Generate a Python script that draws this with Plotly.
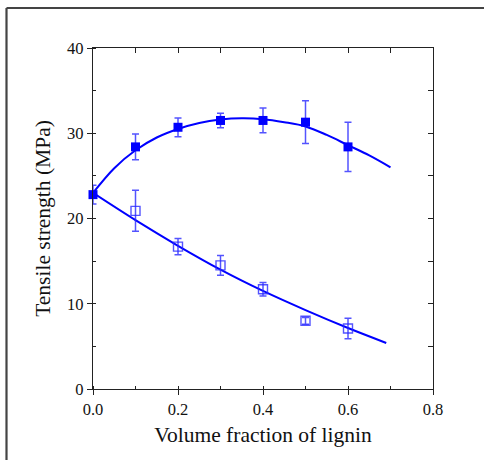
import plotly.graph_objects as go

filled_x = [0.0, 0.1, 0.2, 0.3, 0.4, 0.5, 0.6]
filled_y = [22.8, 28.4, 30.7, 31.5, 31.5, 31.3, 28.4]
filled_err = [1.1, 1.5, 1.1, 0.85, 1.45, 2.5, 2.9]

open_x = [0.1, 0.2, 0.3, 0.4, 0.5, 0.6]
open_y = [20.9, 16.7, 14.5, 11.7, 8.0, 7.1]
open_err = [2.4, 0.95, 1.15, 0.8, 0.4, 1.2]

# Fitted curves
fit_up_x = [0.0, 0.05, 0.1, 0.15, 0.2, 0.25, 0.3, 0.35, 0.4, 0.45, 0.5, 0.55, 0.6, 0.65, 0.7]
fit_up_y = [23.0, 25.9, 28.0, 29.5, 30.5, 31.2, 31.6, 31.75, 31.65, 31.3, 30.8, 29.8, 28.6, 27.4, 26.0]

fit_lo_x = [0.0, 0.1, 0.2, 0.3, 0.4, 0.5, 0.6, 0.69]
fit_lo_y = [23.0, 19.8, 16.8, 14.0, 11.5, 9.25, 7.15, 5.4]

x_range = [0, 0.8]
y_range = [0, 40]

BLUE = "#0000FF"
LIGHT = "rgba(40,40,255,0.8)"
FONT = "Liberation Serif"

fig = go.Figure()

fig.add_trace(go.Scatter(x=fit_up_x, y=fit_up_y, mode="lines",
                         line=dict(color=BLUE, width=2, shape="spline"),
                         hoverinfo="skip", cliponaxis=False))
fig.add_trace(go.Scatter(x=fit_lo_x, y=fit_lo_y, mode="lines",
                         line=dict(color=BLUE, width=2, shape="spline"),
                         hoverinfo="skip", cliponaxis=False))

fig.add_trace(go.Scatter(x=open_x, y=open_y, mode="markers",
                         marker=dict(symbol="square-open", size=9, color=LIGHT,
                                     line=dict(width=1.4, color=LIGHT)),
                         error_y=dict(type="data", array=open_err, visible=True,
                                      color=LIGHT, thickness=1.5, width=3.5),
                         cliponaxis=False))
fig.add_trace(go.Scatter(x=filled_x, y=filled_y, mode="markers",
                         marker=dict(symbol="square", size=9, color=BLUE,
                                     line=dict(width=0)),
                         error_y=dict(type="data", array=filled_err, visible=True,
                                      color=LIGHT, thickness=1.5, width=3.5),
                         cliponaxis=False))

# invisible trace for top/right mirror axes
fig.add_trace(go.Scatter(x=[None], y=[None], xaxis="x2", yaxis="y2",
                         mode="markers", showlegend=False, hoverinfo="skip"))

axis_common = dict(showgrid=False, zeroline=False, showline=True,
                   linecolor="#222", linewidth=1.3, tickcolor="#222",
                   tickfont=dict(family=FONT, size=16.5, color="#111"))

fig.update_layout(
    width=484, height=460,
    margin=dict(l=93, r=51, t=48, b=71),
    paper_bgcolor="white", plot_bgcolor="white",
    showlegend=False,
    font=dict(family=FONT, color="#111"),
    xaxis=dict(range=x_range, dtick=0.2, tick0=0, tickformat=".1f",
               ticks="outside", ticklen=5, tickwidth=1.2,
               minor=dict(ticks="inside", ticklen=3, dtick=0.1, tick0=0,
                          tickcolor="#222", tickwidth=1),
               title=dict(text="Volume fraction of lignin",
                          font=dict(family=FONT, size=21.5, color="#111"),
                          standoff=8),
               **axis_common),
    yaxis=dict(range=y_range, dtick=10, tick0=0,
               ticks="outside", ticklen=5, tickwidth=1.2,
               minor=dict(ticks="inside", ticklen=3, dtick=5, tick0=0,
                          tickcolor="#222", tickwidth=1),
               title=dict(text="Tensile strength (MPa)",
                          font=dict(family=FONT, size=21.5, color="#111"),
                          standoff=10),
               **axis_common),
    xaxis2=dict(range=x_range, overlaying="x", side="top", anchor="y2",
                dtick=0.1, tick0=0, ticks="inside", ticklen=5,
                showticklabels=False, **axis_common),
    yaxis2=dict(range=y_range, overlaying="y", side="right", anchor="x2",
                dtick=5, tick0=0, ticks="inside", ticklen=5,
                showticklabels=False, **axis_common),
)

# outer frame of the original figure (cut off at right and bottom)
fx = (6.5 - 93) / 340
fy = (389 - 8) / 341
fig.add_shape(type="line", xref="paper", yref="paper",
              x0=fx, x1=1.5, y0=fy, y1=fy,
              line=dict(color="#444", width=2.2), layer="below")
fig.add_shape(type="line", xref="paper", yref="paper",
              x0=fx, x1=fx, y0=-0.5, y1=fy,
              line=dict(color="#444", width=2.2), layer="below")

fig.write_html("out.html",
               config={"displayModeBar": False},
               post_script="document.body.style.margin='0px';document.body.style.overflow='hidden';")
